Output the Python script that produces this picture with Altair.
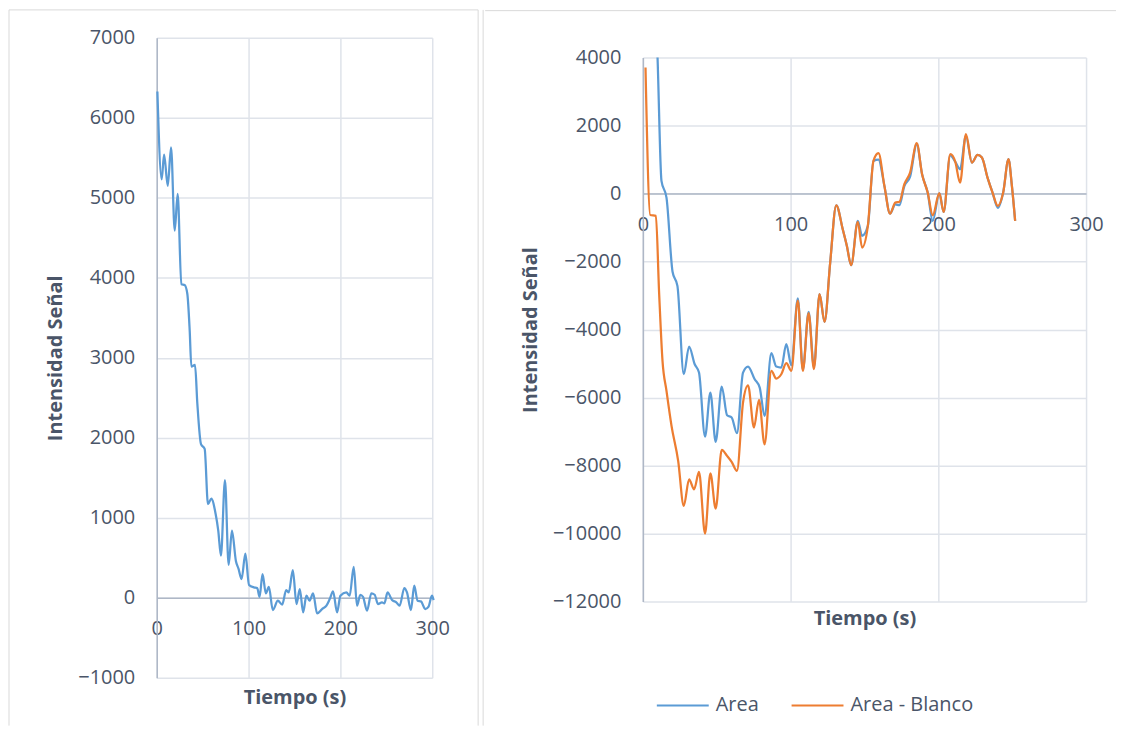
import altair as alt
import pandas as pd

# ---------------- data ----------------
# Left chart: Intensidad Señal vs Tiempo (s)
t_senal = [0.7, 5.4, 8, 12, 15.6, 19.6, 22.8, 26.8, 30.4, 33.3, 35.9, 37.7, 41.7, 44.2,
           48.2, 52.2, 55.8, 59.4, 64.1, 67, 69.9, 74.3, 78.3, 81.9, 86.2, 89.1, 92.4,
           96.5, 100.5, 105.8, 109.4, 112, 115.2, 118.8, 122.1, 126.4, 131.9, 136.6,
           141, 143.8, 148.2, 152.2, 155.8, 159.4, 163, 166.3, 170.3, 174.6, 180, 184.8,
           188.4, 192, 196.4, 200, 206.5, 210.1, 214.5, 218.1, 221.7, 224.6, 229, 233.7,
           237.3, 240.9, 245.3, 247.8, 251.4, 256.2, 260.9, 264.5, 269.6, 272.5, 276.8,
           280.4, 284, 287.7, 292.4, 296, 299.7, 301.5]
v_senal = [6330, 5230, 5540, 5150, 5630, 4590, 5050, 3920, 3910, 3800, 3340, 2890, 2910, 2430,
           1920, 1860, 1170, 1240, 1050, 840, 525, 1470, 410, 840, 460, 360, 233,
           550, 160, 129, 121, 10, 296, 54, 137, -154, -37, -87,
           96, 66, 346, -79, 108, -183, 25, -37, 54, -196, -142, -100,
           -17, 79, -183, 25, 66, 25, 387, -100, 37, 12, -162, 54,
           37, -79, -58, -71, 66, -29, -58, -100, 121, 66, -154,
           150, -37, -46, -142, -112, 25, -30]

# Right chart: Area and Area - Blanco
t_area = [0, 5, 8, 9.9, 12.6, 16, 20.1, 23.4, 27.7, 31.3, 35.1, 38, 42.1, 45.7, 49.3,
          53.4, 57, 60.1, 63.7, 67.8, 71.2, 75.7, 79.1, 82.4, 87, 90.3, 93.7, 97.1,
          100.5, 104.9, 108.3, 112.2, 115.8, 119.6, 123, 126.8, 130.9, 135.3, 138.1,
          141, 145.5, 148.4, 152.3, 156.1, 159.5, 163.5, 167.3, 170.9, 173.6, 177,
          180.9, 185.4, 189, 192.8, 196.2, 200.7, 203.6, 208.1, 211.5, 214.7, 218.7,
          222.7, 226.6, 229.5, 233.3, 236.7, 240.3, 243.9, 247.5, 249.8, 252]
v_area = [12000, 8500, 6000, 4050, 374, -118, -2300, -2715, -5314, -4500, -5020, -5265,
          -7147, -5853, -7303, -5676, -6520, -6588, -7049, -5265, -5088, -5461, -5706,
          -6540, -4696, -5088, -5117, -4431, -5049, -3080, -5180, -3480, -5100, -2961,
          -3774, -2029, -344, -1049, -1539, -2108, -800, -1245, -951, 961, 1000, 225,
          -588, -320, -343, 220, 500, 1450, 568, 29, -804, 10, -539, 1120, 931, 715,
          1700, 911, 1137, 1059, 470, 29, -420, 29, 1010, 225, -804]

t_blanco = [1.8, 5, 8.8, 11, 13.3, 16, 19.4, 23.9, 27.7, 31.3, 34.7, 38, 42.1, 45.7,
            49.3, 53.4, 57, 60.1, 63.7, 67.8, 71.2, 75.2, 78.6, 82.4, 87, 90.3, 93.7,
            97.1, 100.5, 104.9, 108.3, 112.2, 115.8, 119.6, 123, 126.8, 130.9, 135.3,
            138.1, 141, 145.5, 148.4, 152.3, 156.1, 159.5, 163.5, 167.3, 170.9, 173.6,
            177, 180.9, 185.4, 189, 192.8, 196.2, 200.7, 203.6, 208.1, 211.5, 214.7,
            218.7, 222.7, 226.6, 229.5, 233.3, 236.7, 240.3, 243.9, 247.5, 249.8, 252]
v_blanco = [3706, -630, -656, -2912, -4921, -5804, -6833, -7862, -9186, -8403, -8697,
            -8186, -10000, -8226, -9264, -7538, -7715, -7891, -8156, -6147, -5638,
            -6882, -6068, -7373, -5215, -5441, -5314, -4990, -5215, -3150, -5215,
            -3520, -5167, -2961, -3774, -2029, -344, -1049, -1539, -2108, -833, -1588,
            -951, 961, 1186, 225, -588, -265, -245, 275, 618, 1480, 568, 29, -637, 10,
            -539, 1157, 931, 323, 1745, 911, 1137, 1059, 470, 29, -363, 29, 1010, 225, -804]

series_names = ["Area", "Area - Blanco"]
x_ticks = [0, 100, 200, 300]
y_ticks_left = [-1000, 0, 1000, 2000, 3000, 4000, 5000, 6000, 7000]
y_ticks_right = [-12000, -10000, -8000, -6000, -4000, -2000, 0, 2000, 4000]

# ---------------- style ----------------
BLUE = "#5b9bd5"
ORANGE = "#ed7d31"
TXT = "#4a5568"
GRID = "#dfe3ea"
AXIS = "#aeb7c6"
FRAME = "#d9d9d9"
FONT = "Open Sans"

frame_df = pd.DataFrame({"k": [0]})


def frame_rule(opacity=1, **enc):
    return alt.Chart(frame_df).mark_rule(color=FRAME, strokeWidth=1,
                                         strokeOpacity=opacity).encode(**enc)


# ---------------- left chart ----------------
W1, H1 = 276, 641
y1min, y1max = y_ticks_left[0], y_ticks_left[-1]
off1 = -H1 * (0 - y1min) / (y1max - y1min)

df_left = pd.DataFrame({"t": t_senal, "v": v_senal})
line_left = alt.Chart(df_left).mark_line(color=BLUE, strokeWidth=2.25, interpolate="monotone").encode(
    x=alt.X("t:Q", scale=alt.Scale(domain=[0, 300], nice=False, zero=False),
            axis=alt.Axis(values=x_ticks, format="d", offset=off1, title="Tiempo (s)",
                          titleY=100, titleBaseline="middle", labelPadding=21)),
    y=alt.Y("v:Q", scale=alt.Scale(domain=[y1min, y1max], nice=False, zero=False),
            axis=alt.Axis(values=y_ticks_left, format="d", title="Intensidad Señal",
                          labelPadding=22, titlePadding=12)),
)
left = alt.layer(
    frame_rule(x=alt.value(-148), x2=alt.value(322), y=alt.value(-28)),
    frame_rule(x=alt.value(-148), y=alt.value(-28), y2=alt.value(689)),
    frame_rule(x=alt.value(322), y=alt.value(-28), y2=alt.value(689)),
    # left edge of the second chart's frame
    frame_rule(x=alt.value(327), y=alt.value(-28), y2=alt.value(689)),
    line_left,
).properties(width=W1, height=H1)

# ---------------- right chart ----------------
W2, H2 = 444, 545
y2min, y2max = y_ticks_right[0], y_ticks_right[-1]
off2 = -H2 * (0 - y2min) / (y2max - y2min)

df_right = pd.concat([
    pd.DataFrame({"t": t_area, "v": v_area, "s": series_names[0]}),
    pd.DataFrame({"t": t_blanco, "v": v_blanco, "s": series_names[1]}),
])
line_right = alt.Chart(df_right).mark_line(strokeWidth=2.25, interpolate="monotone", clip=True).encode(
    x=alt.X("t:Q", scale=alt.Scale(domain=[0, 300], nice=False, zero=False),
            axis=alt.Axis(values=x_ticks, format="d", offset=off2, title="Tiempo (s)",
                          titleY=426, titleBaseline="middle", labelPadding=21)),
    y=alt.Y("v:Q", scale=alt.Scale(domain=[y2min, y2max], nice=False, zero=False),
            axis=alt.Axis(values=y_ticks_right, format="d", title="Intensidad Señal",
                          labelPadding=22, titlePadding=12)),
    color=alt.Color("s:N", scale=alt.Scale(domain=series_names, range=[BLUE, ORANGE]),
                    legend=alt.Legend(orient="none", legendX=500, legendY=642,
                                      direction="horizontal", title=None,
                                      symbolType="stroke", symbolSize=2704,
                                      symbolStrokeWidth=2, labelFont=FONT,
                                      labelFontSize=20, labelColor=TXT,
                                      labelOffset=6, columnPadding=28)),
)
right = alt.layer(
    frame_rule(x=alt.value(-158), x2=alt.value(474), y=alt.value(-47)),
    frame_rule(opacity=0, x=alt.value(-158), y=alt.value(-47), y2=alt.value(650)),
    line_right,
).properties(width=W2, height=H2)

chart = alt.hconcat(left, right, spacing=0, center=True).properties(padding=0).configure_view(
    stroke=None
).configure_axis(
    labelFont=FONT, labelFontSize=20, labelColor=TXT,
    titleFont=FONT, titleFontSize=20, titleFontWeight="bold", titleColor=TXT,
    grid=True, gridColor=GRID, gridWidth=1.5, domainColor=AXIS, domainWidth=1.5,
    ticks=False, tickSize=0, labelFlush=False, labelOverlap=False,
)

chart.save("out.html", embed_options={"renderer": "svg", "actions": False})
